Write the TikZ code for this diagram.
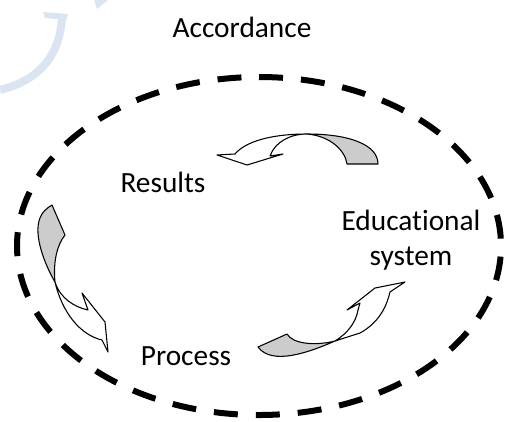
\documentclass[tikz,border=0pt]{standalone}
\usepackage{fontspec}
\setmainfont{Carlito}[Ligatures=NoCommon]
\usepackage{xcolor}
\usepackage{tikz}
\usetikzlibrary{positioning, calc}
\definecolor{wmblue}{RGB}{219,228,241}
\definecolor{bandgray}{RGB}{204,204,204}
\tikzset{
  lbl/.style={font=\fontsize{22}{26.25}\selectfont, inner sep=0pt},
  ring/.style={line width=4.5pt, dash pattern=on 18pt off 13.5pt},
  bandback/.style={draw=black, line width=0.8pt, fill=bandgray, line join=round},
  bandfront/.style={draw=black, line width=0.8pt, fill=white, line join=round}
}
\begin{document}
\begin{tikzpicture}[x=0.75pt, y=-0.75pt]
\useasboundingbox (0,0) rectangle (505,421);
% watermark
\draw[wmblue, line width=6pt] (62,17) .. controls (60,55) and (40,80) .. (0,90);
\fill[wmblue] (43,12) -- (68,14) -- (66,20) -- (45,18) -- cycle;
\fill[wmblue] (94,0) -- (108,0) -- (97,9) -- cycle;

% labels
\node[lbl, anchor=base] (acc) at (242,37) {Accordance};
\node[lbl, anchor=base] (res) at (163,192) {Results};
\node[lbl, anchor=base, align=center] (edu) at (411,265) {Educational\\system};
\node[lbl, anchor=base] (proc) at (186,365) {Process};

% dashed ring
\draw[ring] (259,77) arc[start angle=-90, end angle=270, x radius=242, y radius=169];

% top arrow
\draw[bandback] (378,164) .. controls (378,145) and (350,134) .. (307,134)
  .. controls (330,136) and (345,150) .. (347,164) -- cycle;
\draw[bandfront] (307,134) .. controls (270,134) and (245,142) .. (235,154)
  -- (217,155) -- (247,165) -- (283,154) -- (270,156)
  .. controls (275,142) and (290,134) .. (307,134) -- cycle;

% left arrow
\draw[bandback] (52,205) -- (65,235) .. controls (57,245) and (53,262) .. (55,282)
  .. controls (45,265) and (33,235) .. (40,218) .. controls (42,212) and (47,208) .. (52,205) -- cycle;
\draw[bandfront] (55,282) .. controls (60,298) and (74,307) .. (88,310)
  -- (82,293) -- (105,322) -- (108,352) -- (102,340)
  .. controls (80,335) and (62,312) .. (55,282) -- cycle;

% bottom arrow
\draw[bandback] (258,347) -- (287,334) .. controls (293,344) and (315,346) .. (335,341)
  .. controls (310,352) and (272,366) .. (258,347) -- cycle;
\draw[bandfront] (335,341) .. controls (348,333) and (356,322) .. (358,310)
  -- (360,303) -- (347,310) -- (375,288) -- (405,282) -- (390,292)
  .. controls (387,305) and (380,322) .. (360,333) -- (335,341) -- cycle;
\end{tikzpicture}
\end{document}
